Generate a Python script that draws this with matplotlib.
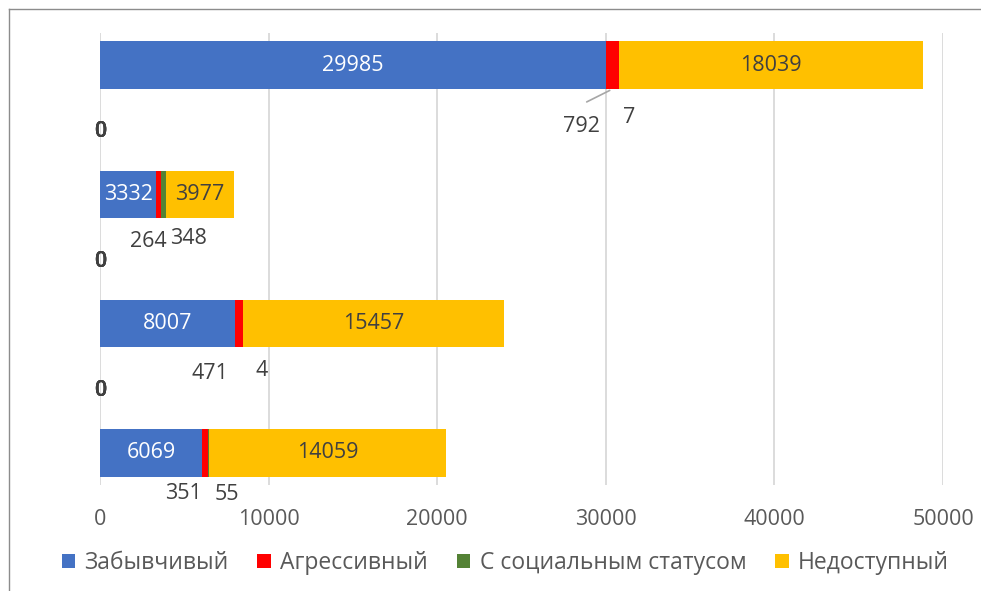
import matplotlib
matplotlib.use("Agg")
import matplotlib.pyplot as plt

plt.rcParams['font.family'] = ['Open Sans', 'DejaVu Sans']

# rows from top to bottom; empty rows sit between the bars
rows = ['r1', 'g1', 'r2', 'g2', 'r3', 'g3', 'r4']
series = ['Забывчивый', 'Агрессивный', 'С социальным статусом', 'Недоступный']
forgetful = [29985, 0, 3332, 0, 8007, 0, 6069]
aggressive = [792, 0, 264, 0, 471, 0, 351]
social = [7, 0, 348, 0, 4, 0, 55]
unavailable = [18039, 0, 3977, 0, 15457, 0, 14059]
xticks = [0, 10000, 20000, 30000, 40000, 50000]

values = [forgetful, aggressive, social, unavailable]
colors = ['#4472C4', '#FF0000', '#548235', '#FFC000']

# manual offsets (pixels) for the small outside labels: (series, row) -> (dx, dy from bar bottom)
outside = {
    (1, 0): (-31, -37), (2, 0): (10, -28),
    (1, 2): (-10, -23), (2, 2): (25, -20),
    (1, 4): (-29, -26), (2, 4): (19, -23),
    (1, 6): (-22, -17), (2, 6): (18, -18),
}

fig = plt.figure(figsize=(9.81, 5.91), dpi=100)
ax = fig.add_axes([100 / 981, 1 - 485 / 591, 843 / 981, 452 / 591])

ypos = list(range(len(rows)))
height = 0.74
fs = 15.5
left = [0] * len(rows)
for si, (vals, col) in enumerate(zip(values, colors)):
    ax.barh(ypos, vals, left=left, height=height, color=col, label=series[si], zorder=3)
    for ri, v in enumerate(vals):
        xc = left[ri] + v / 2
        if v == 0:
            ax.annotate('0', xy=(0, ri), xytext=(0, -2), textcoords='offset pixels',
                        ha='center', va='center', fontsize=fs, fontweight='semibold',
                        color='#404040', zorder=4)
        elif (si, ri) in outside:
            dx, dy = outside[(si, ri)]
            ax.annotate(str(v), xy=(xc, ri + height / 2), xytext=(dx, dy),
                        textcoords='offset pixels', ha='center', va='center',
                        fontsize=fs, color='#404040', zorder=4)
            if (si, ri) == (1, 0):
                ax.annotate('', xy=(xc, ri + height / 2), xytext=(-28, -14),
                            textcoords='offset pixels',
                            arrowprops=dict(arrowstyle='-', color='#A6A6A6', lw=1.2))
        else:
            tc = 'white' if si == 0 else '#404040'
            ax.text(xc, ri, str(v), ha='center', va='center', fontsize=fs, color=tc, zorder=4)
    left = [a + b for a, b in zip(left, vals)]

ax.set_xlim(0, 50000)
ax.set_ylim(len(rows) - 0.5, -0.5)
ax.set_xticks(xticks)
ax.set_xticklabels([str(t) for t in xticks])
ax.set_yticks([])
ax.tick_params(axis='x', length=0, labelsize=fs, labelcolor='#595959', pad=17)
ax.grid(axis='x', color='#D9D9D9', lw=1.3, zorder=0)
for s in ax.spines.values():
    s.set_visible(False)

fig.legend(loc='center', bbox_to_anchor=(0.515, 1 - 563 / 591), ncol=4, frameon=False,
           fontsize=16.5, labelcolor='#595959', handlelength=0.6, handleheight=0.6,
           handletextpad=0.4, columnspacing=1.25)

# chart frame (top and left edges visible in the reference)
fig.add_artist(plt.Line2D([8.5 / 981, 8.5 / 981], [0, 1 - 8.5 / 591], color='#8C8C8C', lw=1))
fig.add_artist(plt.Line2D([8.5 / 981, 1], [1 - 8.5 / 591, 1 - 8.5 / 591], color='#8C8C8C', lw=1))

fig.savefig('out.png', dpi=100)
